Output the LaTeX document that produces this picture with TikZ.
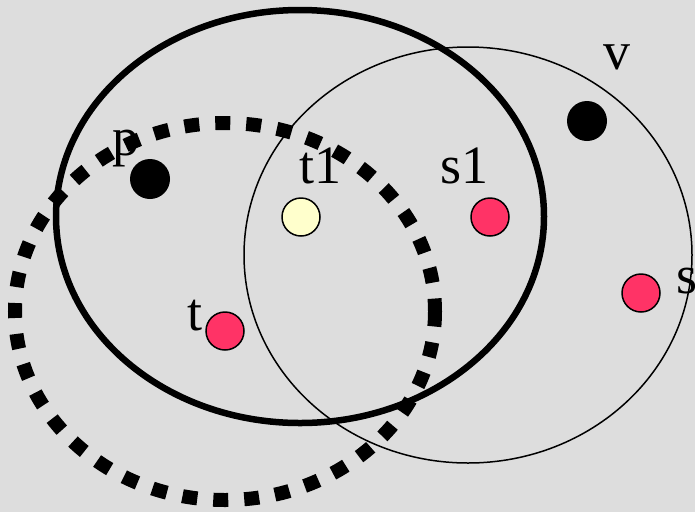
\documentclass[tikz,border=0pt]{standalone}
\usepackage{fontspec}
\setmainfont{Liberation Serif}
\definecolor{bg}{HTML}{DDDDDD}
\definecolor{dotred}{HTML}{FF3366}
\definecolor{dotyel}{HTML}{FFFFCC}
\begin{document}
\begin{tikzpicture}[x=1pt,y=-1pt,
  blackdot/.style={circle,fill=black,minimum size=40pt,inner sep=0pt},
  reddot/.style={circle,fill=dotred,draw=black,line width=1.5pt,minimum size=38pt,inner sep=0pt},
  yeldot/.style={circle,fill=dotyel,draw=black,line width=1.5pt,minimum size=38pt,inner sep=0pt},
  lbl/.style={anchor=base west,inner sep=0pt,font=\fontsize{54}{54}\selectfont}]
\fill[bg] (0,0) rectangle (695,512);
\useasboundingbox (0,0) rectangle (695,512);
\clip (0,0) rectangle (695,512);
% ellipses
\draw[line width=6.5pt] (300,216.5) ellipse [x radius=244, y radius=206.5];
\draw[line width=1.5pt] (468,255) ellipse [x radius=224, y radius=208];
\draw[line width=14pt,dash pattern=on 15pt off 16pt] (225,311.5) ellipse [x radius=210, y radius=188.5];
% dots
\node[blackdot] (p) at (150,179) {};
\node[blackdot] (v) at (587,121) {};
\node[yeldot] (t1) at (301,217) {};
\node[reddot] (s1) at (490,217) {};
\node[reddot] (s) at (641,293) {};
\node[reddot] (t) at (225,331) {};
% labels
\node[lbl] (lp) at (112,155) {p};
\node[lbl] (lv) at (603,69) {v};
\node[lbl] (lt1) at (299,183) {t1};
\node[lbl] (ls1) at (440,183) {s1};
\node[lbl] (ls) at (676,293) {s};
\node[lbl] (lt) at (187,330) {t};
\end{tikzpicture}
\end{document}
